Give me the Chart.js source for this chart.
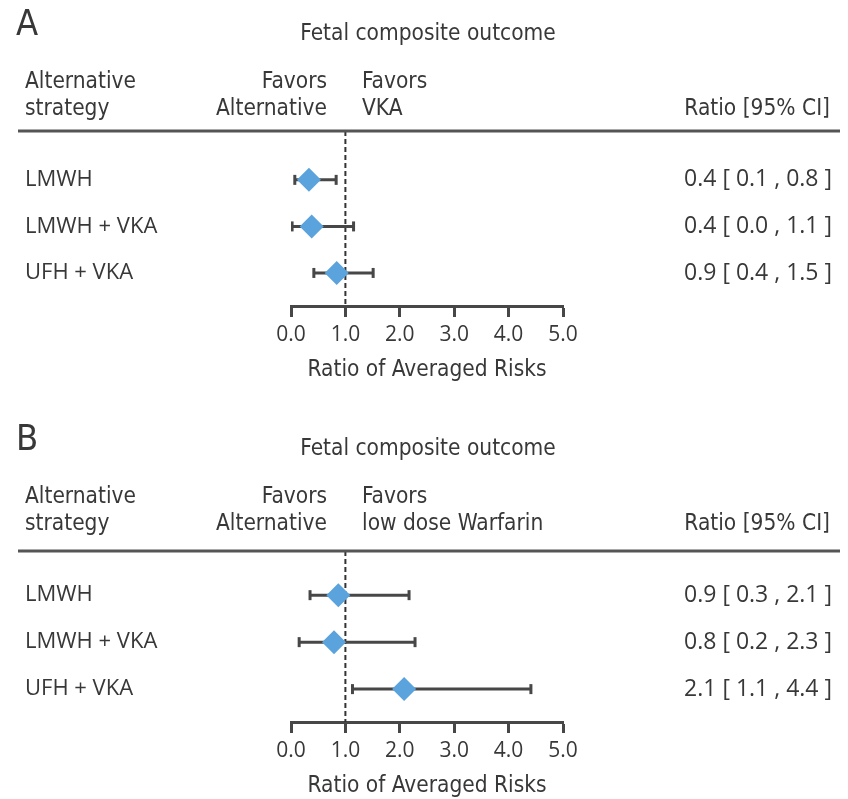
<!DOCTYPE html>
<html>
<head>
<meta charset="utf-8">
<script src="https://cdn.jsdelivr.net/npm/chart.js@4.4.1/dist/chart.umd.min.js"></script>
<style>
  html, body { margin: 0; padding: 0; background: #fff; }
  #wrap { position: relative; width: 848px; height: 799px; }
  canvas { position: absolute; left: 0; }
</style>
</head>
<body>
<div id="wrap">
  <canvas id="panelA" width="848" height="415" style="top:0"></canvas>
  <canvas id="panelB" width="848" height="384" style="top:415px"></canvas>
</div>
<script>
// strategies compared (same in both panels)
const strategies = ["LMWH", "LMWH + VKA", "UFH + VKA"];
const xTicks = [0, 1, 2, 3, 4, 5];

// panel A: alternative vs VKA
const estA = [0.33, 0.38, 0.84];
const lowA = [0.07, 0.02, 0.42];
const highA = [0.83, 1.15, 1.51];
const ratioTextA = ["0.4 [ 0.1 , 0.8 ]", "0.4 [ 0.0 , 1.1 ]", "0.9 [ 0.4 , 1.5 ]"];

// panel B: alternative vs low dose warfarin
const estB = [0.87, 0.79, 2.08];
const lowB = [0.35, 0.15, 1.13];
const highB = [2.17, 2.28, 4.41];
const ratioTextB = ["0.9 [ 0.3 , 2.1 ]", "0.8 [ 0.2 , 2.3 ]", "2.1 [ 1.1 , 4.4 ]"];

const textColor = "#383838";
const lineColor = "#474747";
const diamondColor = "#5ba3dc";
const headFont = "'Liberation Sans Narrow', 'DejaVu Sans Condensed', 'Open Sans', sans-serif";
const bodyFont = "'Open Sans', sans-serif";

// header text + rule above the plot
const headerPlugin = {
    id: "header",
    afterDraw(chart, args, opts) {
        const ctx = chart.ctx;
        ctx.save();
        ctx.fillStyle = textColor;
        ctx.textBaseline = "middle";

        ctx.font = `36px ${headFont}`;
        ctx.textAlign = "left";
        ctx.fillText(opts.letter, 16, 26);

        ctx.font = `22.5px ${headFont}`;
        ctx.textAlign = "center";
        ctx.fillText("Fetal composite outcome", 428, 34);

        ctx.textAlign = "left";
        ctx.fillText("Alternative", 25, 82);
        ctx.fillText("strategy", 25, 109);
        ctx.fillText("Favors", 362, 82);
        ctx.fillText(opts.favorsRight, 362, 109);
        ctx.textAlign = "right";
        ctx.fillText("Favors", 327, 82);
        ctx.fillText("Alternative", 327, 109);
        ctx.fillText("Ratio [95% CI]", 830, 109);

        ctx.strokeStyle = "#555";
        ctx.lineWidth = 3;
        ctx.beginPath();
        ctx.moveTo(18, chart.chartArea.top);
        ctx.lineTo(840, chart.chartArea.top);
        ctx.stroke();
        ctx.restore();
    }
};

function buildChart(canvasId, letter, favorsRight, est, low, high, ratioText, yMin, yMax, padTop, padBottom) {
    const datasets = [];
    // diamonds on top
    datasets.push({
        type: "scatter",
        data: est.map((v, i) => ({ x: v, y: i + 1 })),
        pointStyle: "rectRot",
        pointRadius: 12,
        pointHoverRadius: 12,
        backgroundColor: diamondColor,
        borderWidth: 0,
        order: 0
    });
    // confidence intervals with end caps
    strategies.forEach((_, i) => {
        datasets.push({
            type: "line",
            data: [{ x: low[i], y: i + 1 }, { x: high[i], y: i + 1 }],
            borderColor: lineColor,
            borderWidth: 3,
            pointStyle: "line",
            rotation: 90,
            pointRadius: 5,
            pointBorderWidth: 3,
            pointBorderColor: lineColor,
            order: 1
        });
    });
    // no-difference reference line at 1
    datasets.push({
        type: "line",
        data: [{ x: 1, y: yMin }, { x: 1, y: yMax }],
        borderColor: "#333",
        borderWidth: 2,
        borderDash: [5, 3],
        pointRadius: 0,
        order: 2
    });

    const rowTicks = (scale) => {
        scale.ticks = strategies.map((_, i) => ({ value: i + 1 }));
    };

    return new Chart(document.getElementById(canvasId), {
        type: "scatter",
        data: { datasets },
        options: {
            responsive: false,
            animation: false,
            layout: { padding: { left: 25, right: 16, top: padTop, bottom: padBottom } },
            plugins: {
                legend: { display: false },
                tooltip: { enabled: false },
                header: { letter, favorsRight }
            },
            scales: {
                x: {
                    type: "linear",
                    min: 0,
                    max: 5,
                    afterBuildTicks: (scale) => { scale.ticks = xTicks.map((v) => ({ value: v })); },
                    afterFit: (scale) => { scale.height = 82; },
                    grid: { drawOnChartArea: false, drawTicks: true, tickLength: 11, tickWidth: 3, tickColor: lineColor },
                    border: { display: true, color: lineColor, width: 3 },
                    ticks: {
                        color: textColor,
                        font: { family: bodyFont, size: 21 },
                        padding: 5,
                        callback: (v) => Number(v).toFixed(1)
                    },
                    title: {
                        display: true,
                        text: "Ratio of Averaged Risks",
                        color: textColor,
                        font: { family: headFont, size: 22.5 },
                        padding: { top: 0, bottom: 4 }
                    }
                },
                y: {
                    type: "linear",
                    position: "left",
                    reverse: true,
                    min: yMin,
                    max: yMax,
                    afterBuildTicks: rowTicks,
                    afterFit: (scale) => { scale.width = 266; },
                    grid: { display: false },
                    border: { display: false },
                    ticks: {
                        color: textColor,
                        crossAlign: "far",
                        font: { family: bodyFont, size: 22 },
                        callback: (v) => strategies[v - 1]
                    }
                },
                y2: {
                    type: "linear",
                    position: "right",
                    reverse: true,
                    min: yMin,
                    max: yMax,
                    afterBuildTicks: rowTicks,
                    afterFit: (scale) => { scale.width = 269; },
                    grid: { display: false },
                    border: { display: false },
                    ticks: {
                        color: textColor,
                        crossAlign: "far",
                        font: { family: bodyFont, size: 23 },
                        callback: (v) => ratioText[v - 1]
                    }
                }
            }
        },
        plugins: [headerPlugin]
    });
}

buildChart("panelA", "A", "VKA", estA, lowA, highA, ratioTextA, -0.05, 3.71, 131, 27);
buildChart("panelB", "B", "low dose Warfarin", estB, lowB, highB, ratioTextB, 0.06, 3.70, 136, -5);
</script>
</body>
</html>
